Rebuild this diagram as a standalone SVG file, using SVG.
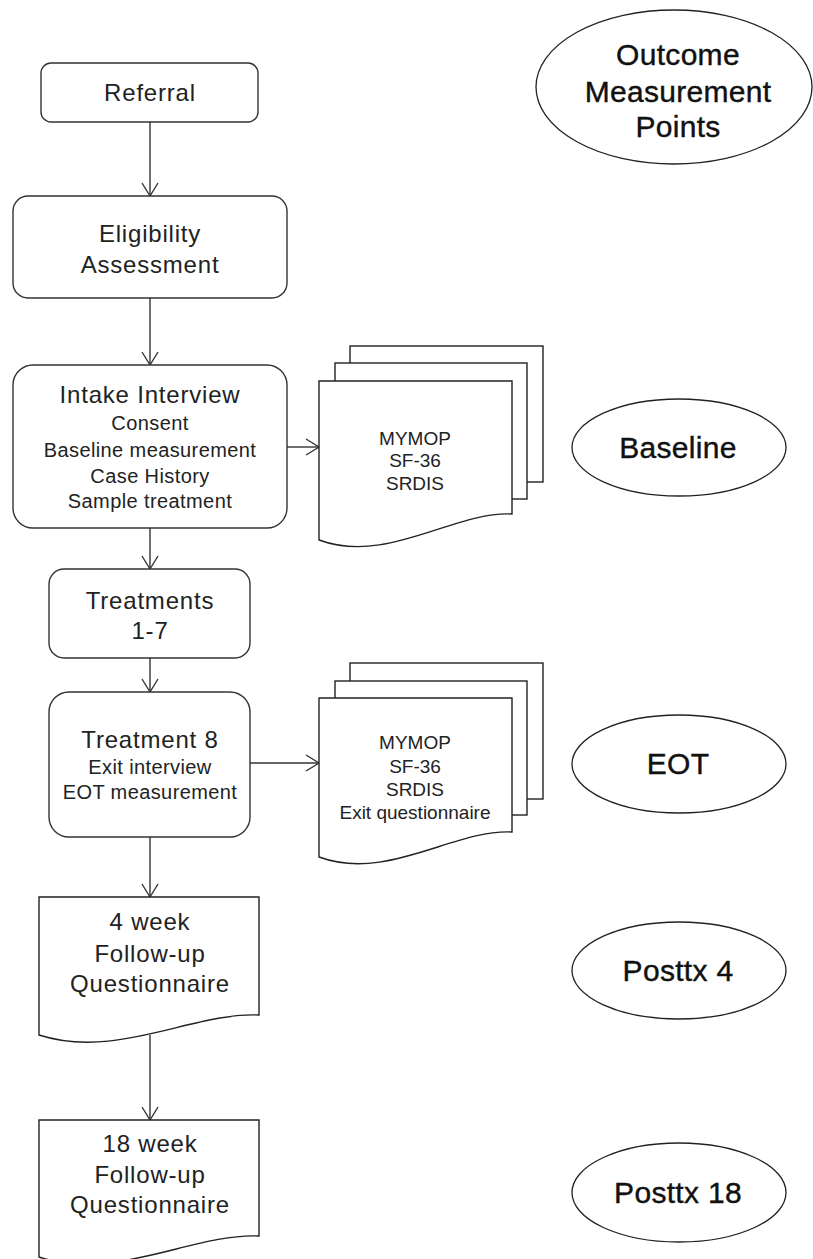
<svg xmlns="http://www.w3.org/2000/svg" width="813" height="1259" viewBox="0 0 813 1259">
<style>
.box{fill:#fff;stroke:#333;stroke-width:1.4}
.doc{fill:#fff;stroke:#222;stroke-width:1.4}
.ell{fill:#fff;stroke:#222;stroke-width:1.3}
.conn{fill:none;stroke:#333;stroke-width:1.4}
text{font-family:"Liberation Sans",Arial,sans-serif;text-anchor:middle;fill:#222}
.t1{font-size:24px;letter-spacing:0.8px}
.t2{font-size:20px;letter-spacing:0.4px}
.td{font-size:19px}
.te{font-size:30px;letter-spacing:0.3px;fill:#111;stroke:#111;stroke-width:0.4}
</style>
<defs>
<marker id="arr" markerWidth="16" markerHeight="18" refX="14" refY="9" orient="auto" markerUnits="userSpaceOnUse">
<path d="M1,1 L14,9 L1,17" fill="none" stroke="#333" stroke-width="1.4"/>
</marker>
</defs>
<rect width="813" height="1259" fill="#fff"/>

<g id="connectors">
<line class="conn" x1="150" y1="122" x2="150" y2="196" marker-end="url(#arr)"/>
<line class="conn" x1="150" y1="298" x2="150" y2="365" marker-end="url(#arr)"/>
<line class="conn" x1="287" y1="447" x2="319" y2="447" marker-end="url(#arr)"/>
<line class="conn" x1="150" y1="528" x2="150" y2="569" marker-end="url(#arr)"/>
<line class="conn" x1="150" y1="658" x2="150" y2="692" marker-end="url(#arr)"/>
<line class="conn" x1="250" y1="763" x2="319" y2="763" marker-end="url(#arr)"/>
<line class="conn" x1="150" y1="837" x2="150" y2="897" marker-end="url(#arr)"/>
<line class="conn" x1="150" y1="1035" x2="150" y2="1120" marker-end="url(#arr)"/>
</g>

<g id="referral">
<rect class="box" x="41" y="63" width="217" height="59" rx="10"/>
<text class="t1" x="150" y="101">Referral</text>
</g>

<g id="eligibility">
<rect class="box" x="13" y="196" width="274" height="102" rx="15"/>
<text class="t1" x="150" y="242">Eligibility</text>
<text class="t1" x="150" y="273">Assessment</text>
</g>

<g id="intake">
<rect class="box" x="13" y="365" width="274" height="163" rx="20"/>
<text class="t1" x="150" y="403">Intake Interview</text>
<text class="t2" x="150" y="430">Consent</text>
<text class="t2" x="150" y="457">Baseline measurement</text>
<text class="t2" x="150" y="483">Case History</text>
<text class="t2" x="150" y="508">Sample treatment</text>
</g>

<g id="docs-baseline">
<rect class="doc" x="350" y="346" width="193" height="136"/>
<rect class="doc" x="335" y="363" width="192" height="136"/>
<path class="doc" d="M319,381 H512 V514 C454,511 387,565 319,540 Z"/>
<text class="td" x="415" y="445">MYMOP</text>
<text class="td" x="415" y="467">SF-36</text>
<text class="td" x="415" y="490">SRDIS</text>
</g>

<g id="treatments">
<rect class="box" x="49" y="569" width="201" height="89" rx="15"/>
<text class="t1" x="150" y="609">Treatments</text>
<text class="t1" x="150" y="639">1-7</text>
</g>

<g id="treatment8">
<rect class="box" x="49" y="692" width="201" height="145" rx="20"/>
<text class="t1" x="150" y="748">Treatment 8</text>
<text class="t2" x="150" y="774">Exit interview</text>
<text class="t2" x="150" y="799">EOT measurement</text>
</g>

<g id="docs-eot">
<rect class="doc" x="350" y="663" width="193" height="136"/>
<rect class="doc" x="335" y="681" width="192" height="134"/>
<path class="doc" d="M319,698 H512 V832 C454,829 387,882 319,857 Z"/>
<text class="td" x="415" y="749">MYMOP</text>
<text class="td" x="415" y="773">SF-36</text>
<text class="td" x="415" y="796">SRDIS</text>
<text class="td" x="415" y="819">Exit questionnaire</text>
</g>

<g id="followup4">
<path class="doc" d="M39,897 H259 V1015 C193,1012 116,1060 39,1035 Z"/>
<text class="t1" x="150" y="930">4 week</text>
<text class="t1" x="150" y="962">Follow-up</text>
<text class="t1" x="150" y="992">Questionnaire</text>
</g>

<g id="followup18">
<path class="doc" d="M39,1120 H259 V1236 C193,1233 116,1282 39,1257 Z"/>
<text class="t1" x="150" y="1152">18 week</text>
<text class="t1" x="150" y="1183">Follow-up</text>
<text class="t1" x="150" y="1213">Questionnaire</text>
</g>

<g id="outcome">
<ellipse class="ell" cx="674" cy="87" rx="138" ry="77"/>
<text class="te" x="678" y="65">Outcome</text>
<text class="te" x="678" y="102">Measurement</text>
<text class="te" x="678" y="137">Points</text>
</g>

<g id="baseline">
<ellipse class="ell" cx="679" cy="447.5" rx="107" ry="48.5"/>
<text class="te" x="678" y="458">Baseline</text>
</g>

<g id="eot">
<ellipse class="ell" cx="679" cy="764" rx="107" ry="49"/>
<text class="te" x="678" y="774">EOT</text>
</g>

<g id="posttx4">
<ellipse class="ell" cx="679" cy="970.5" rx="107" ry="48.5"/>
<text class="te" x="678" y="981">Posttx 4</text>
</g>

<g id="posttx18">
<ellipse class="ell" cx="679" cy="1192.5" rx="107" ry="49.5"/>
<text class="te" x="678" y="1203">Posttx 18</text>
</g>
</svg>
